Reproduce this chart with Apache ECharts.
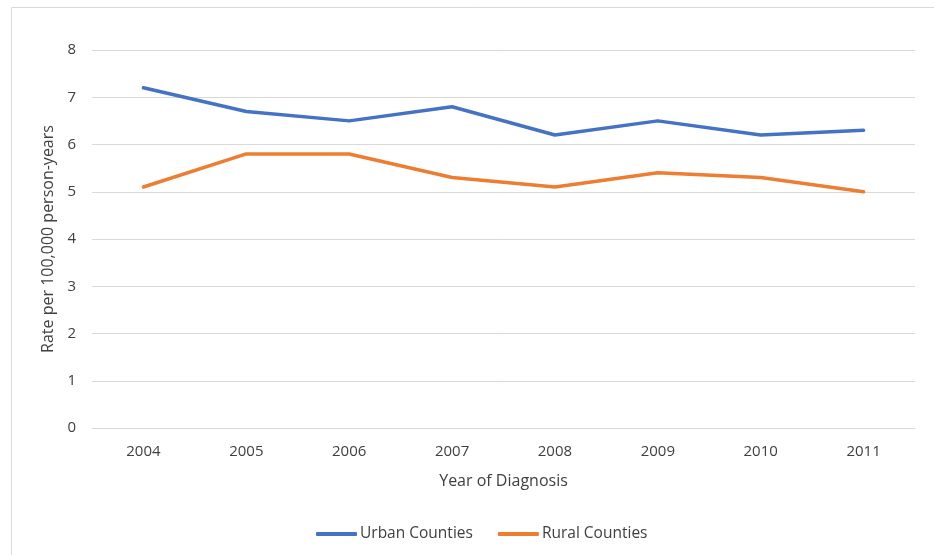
<!DOCTYPE html>
<html>
<head>
<meta charset="utf-8">
<script src="https://cdn.jsdelivr.net/npm/echarts@6/dist/echarts.min.js"></script>
<style>
  html, body { margin: 0; padding: 0; background: #fff; }
  #chart { width: 934px; height: 555px; }
</style>
</head>
<body>
<div id="chart"></div>
<script>
const years = ["2004", "2005", "2006", "2007", "2008", "2009", "2010", "2011"];
const urban = [7.2, 6.7, 6.5, 6.8, 6.2, 6.5, 6.2, 6.3];
const rural = [5.1, 5.8, 5.8, 5.3, 5.1, 5.4, 5.3, 5.0];

const fontFamily = "'Open Sans', 'Noto Sans', sans-serif";
const textColor = "#404040";

const chart = echarts.init(document.getElementById("chart"));
chart.setOption({
  animation: false,
  textStyle: { fontFamily: fontFamily },
  graphic: [
    {
      type: "rect",
      shape: { x: 11.5, y: 7.5, width: 940, height: 560 },
      style: { fill: "none", stroke: "#d9d9d9", lineWidth: 1 },
      silent: true
    }
  ],
  grid: { left: 92, right: 19, top: 50, bottom: 127 },
  legend: {
    bottom: 8,
    left: 311,
    itemWidth: 41,
    itemHeight: 4,
    itemGap: 25,
    icon: "roundRect",
    textStyle: { color: textColor, fontSize: 15.5, fontFamily: fontFamily, padding: [0, 0, 0, -2] },
    data: ["Urban Counties", "Rural Counties"]
  },
  xAxis: {
    type: "category",
    data: years,
    name: "Year of Diagnosis",
    nameLocation: "middle",
    nameGap: 45,
    nameTextStyle: { color: textColor, fontSize: 16 },
    axisLine: { lineStyle: { color: "#d9d9d9" } },
    axisTick: { show: false },
    axisLabel: { color: textColor, fontSize: 15, margin: 16 }
  },
  yAxis: {
    type: "value",
    min: 0,
    max: 8,
    interval: 1,
    name: "Rate per 100,000 person-years",
    nameLocation: "middle",
    nameGap: 35,
    nameTextStyle: { color: textColor, fontSize: 16 },
    axisLine: { show: false },
    axisTick: { show: false },
    axisLabel: { color: textColor, fontSize: 15, margin: 16 },
    splitLine: { lineStyle: { color: "#d9d9d9", width: 1 } }
  },
  series: [
    {
      name: "Urban Counties",
      type: "line",
      data: urban,
      showSymbol: false,
      symbol: "none",
      itemStyle: { color: "#4472c4" },
      lineStyle: { color: "#4472c4", width: 3.5, cap: "round", join: "round" }
    },
    {
      name: "Rural Counties",
      type: "line",
      data: rural,
      showSymbol: false,
      symbol: "none",
      itemStyle: { color: "#ed7d31" },
      lineStyle: { color: "#ed7d31", width: 3.5, cap: "round", join: "round" }
    }
  ]
});
</script>
</body>
</html>
